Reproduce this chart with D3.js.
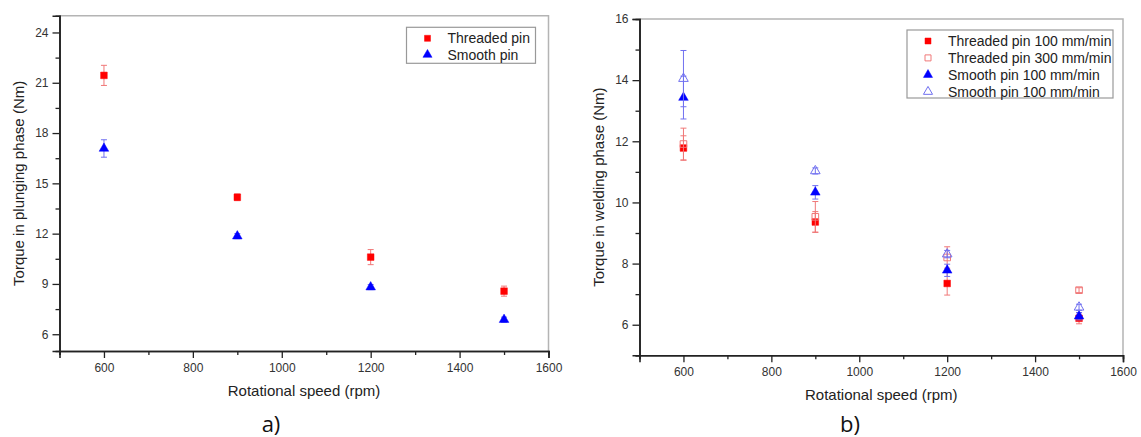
<!DOCTYPE html>
<html>
<head>
<meta charset="utf-8">
<script src="https://cdn.jsdelivr.net/npm/d3@7"></script>
<style>
  body { margin: 0; background: #fff; }
  svg { display: block; font-family: "Liberation Sans", Arial, sans-serif; }
</style>
</head>
<body>
<script>
const width = 1141;
const height = 437;

// rotational speeds (rpm)
const speeds = [600, 900, 1200, 1500];

// a) plunging phase torque (Nm)
const plungeThreaded = [21.44, 14.17, 10.6, 8.57];
const plungeThreadedErr = [0.6, 0.2, 0.45, 0.3];
const plungeSmooth = [17.08, 11.85, 8.81, 6.87];
const plungeSmoothErr = [0.52, 0.15, 0.15, 0.15];

// b) welding phase torque (Nm)
const weldThreaded100 = [11.78, 9.36, 7.35, 6.21];
const weldThreaded100Err = [0.4, 0.34, 0.38, 0.18];
const weldThreaded300 = [11.91, 9.53, 8.2, 7.13];
const weldThreaded300Err = [0.52, 0.5, 0.35, 0.08];
const weldSmooth100 = [13.43, 10.33, 7.78, 6.28];
const weldSmooth100Err = [0.7, 0.22, 0.2, 0.12];
const weldSmooth300 = [14.05, 11.03, 8.31, 6.57];
const weldSmooth300Err = [0.92, 0.1, 0.12, 0.1];

// ticks
const xMajor = [600, 800, 1000, 1200, 1400, 1600];
const xMinor = [500, 700, 900, 1100, 1300, 1500];
const yMajorA = [6, 9, 12, 15, 18, 21, 24];
const yMinorA = [7.5, 10.5, 13.5, 16.5, 19.5, 22.5];
const yMajorB = [6, 8, 10, 12, 14, 16];
const yMinorB = [5, 7, 9, 11, 13, 15];

const colors = {
  red: "#ff0000",
  redLight: "#f07878",
  blue: "#0000ff",
  blueLight: "#7070f0",
};

const svg = d3
  .select("body")
  .append("svg")
  .attr("width", width)
  .attr("height", height);

const drawPanel = (p) => {
  const x = d3.scaleLinear().domain([500, 1600]).range([p.l, p.r]);
  const y = d3.scaleLinear().domain(p.yDomain).range([p.b, p.t]);
  const g = svg.append("g");

  // grey frame on top / right
  g.append("path")
    .attr("d", `M${p.l},${p.t}H${p.r}V${p.b}`)
    .attr("fill", "none")
    .attr("stroke", "#b4b4b4")
    .attr("stroke-width", 1.5);

  const styleAxis = (sel) => {
    sel.select(".domain").attr("stroke", "#222").attr("stroke-width", 1.6);
    sel.selectAll(".tick line").attr("stroke", "#222").attr("stroke-width", 1.3);
    sel.selectAll(".tick text")
      .attr("fill", "#333")
      .style("font-size", "12px");
  };

  // minor ticks first
  g.append("g")
    .attr("transform", `translate(0,${p.b})`)
    .call(d3.axisBottom(x).tickValues(xMinor).tickSize(4).tickFormat(""))
    .call(styleAxis);
  g.append("g")
    .attr("transform", `translate(${p.l},0)`)
    .call(d3.axisLeft(y).tickValues(p.yMinor).tickSize(4).tickFormat(""))
    .call(styleAxis);
  // major ticks
  g.append("g")
    .attr("transform", `translate(0,${p.b})`)
    .call(d3.axisBottom(x).tickValues(xMajor).tickSize(7).tickPadding(5).tickFormat(d3.format("d")))
    .call(styleAxis);
  g.append("g")
    .attr("transform", `translate(${p.l},0)`)
    .call(d3.axisLeft(y).tickValues(p.yMajor).tickSize(7).tickPadding(4).tickFormat(d3.format("d")))
    .call(styleAxis);

  // axis titles
  g.append("text")
    .attr("x", (p.l + p.r) / 2)
    .attr("y", p.b + 45)
    .attr("text-anchor", "middle")
    .attr("fill", "#222")
    .style("font-size", "15px")
    .text("Rotational speed (rpm)");
  g.append("text")
    .attr("transform", `translate(${p.yTitleX},${(p.t + p.b) / 2}) rotate(-90)`)
    .attr("text-anchor", "middle")
    .attr("dy", "0.35em")
    .attr("fill", "#222")
    .style("font-size", "15px")
    .text(p.yTitle);

  // panel letter
  g.append("text")
    .attr("x", p.letterX)
    .attr("y", 432)
    .attr("text-anchor", "middle")
    .attr("fill", "#111")
    .style("font-size", "22px")
    .style("font-family", "'Open Sans', sans-serif")
    .text(p.letter);

  // series: error bars then markers
  p.series.forEach((s) => {
    const sg = g.append("g");
    speeds.forEach((sp, i) => {
      const cx = x(sp);
      const y0 = y(s.values[i] - s.errs[i]);
      const y1 = y(s.values[i] + s.errs[i]);
      sg.append("path")
        .attr("d", `M${cx},${y0}V${y1}M${cx - 3},${y0}H${cx + 3}M${cx - 3},${y1}H${cx + 3}`)
        .attr("fill", "none")
        .attr("stroke", s.errColor)
        .attr("stroke-width", 1);
    });
    sg.selectAll("path.mark")
      .data(s.values)
      .enter()
      .append("path")
      .classed("mark", true)
      .attr("transform", (d, i) => `translate(${x(speeds[i])},${y(d)})`)
      .attr("d", d3.symbol().type(s.shape).size(s.shape === d3.symbolSquare ? 44 : 40))
      .attr("fill", s.filled ? s.color : "none")
      .attr("stroke", s.color)
      .attr("stroke-width", s.filled ? 0.5 : 1);
  });

  // legend
  const lg = g.append("g");
  lg.append("rect")
    .attr("x", p.legend.x)
    .attr("y", p.legend.y)
    .attr("width", p.legend.w)
    .attr("height", p.legend.h)
    .attr("fill", "#fff")
    .attr("stroke", "#999")
    .attr("stroke-width", 1.2);
  p.series.forEach((s, i) => {
    const ly = p.legend.y + 11 + i * p.legend.step;
    lg.append("path")
      .attr("transform", `translate(${p.legend.x + 21},${ly})`)
      .attr("d", d3.symbol().type(s.shape).size(s.shape === d3.symbolSquare ? 36 : 36))
      .attr("fill", s.filled ? s.color : "none")
      .attr("stroke", s.color)
      .attr("stroke-width", s.filled ? 0.5 : 1);
    lg.append("text")
      .attr("x", p.legend.x + 41)
      .attr("y", ly)
      .attr("dy", "0.35em")
      .attr("fill", "#222")
      .style("font-size", "14px")
      .text(s.name);
  });
};

drawPanel({
  l: 59.5, r: 548.5, t: 15.7, b: 351,
  yDomain: [5, 25],
  yMajor: yMajorA,
  yMinor: yMinorA,
  yTitle: "Torque in plunging phase (Nm)",
  yTitleX: 19,
  letter: "a)",
  letterX: 271,
  legend: { x: 406.5, y: 27.3, w: 129, h: 36, step: 16.4 },
  series: [
    { name: "Threaded pin", values: plungeThreaded, errs: plungeThreadedErr, shape: d3.symbolSquare, filled: true, color: colors.red, errColor: colors.redLight },
    { name: "Smooth pin", values: plungeSmooth, errs: plungeSmoothErr, shape: d3.symbolTriangle, filled: true, color: colors.blue, errColor: colors.blueLight },
  ],
});

drawPanel({
  l: 639.5, r: 1123, t: 19, b: 355.3,
  yDomain: [5, 16],
  yMajor: yMajorB,
  yMinor: yMinorB,
  yTitle: "Torque in welding phase (Nm)",
  yTitleX: 599,
  letter: "b)",
  letterX: 850,
  legend: { x: 907, y: 30, w: 206, h: 68, step: 16.9 },
  series: [
    { name: "Threaded pin 100 mm/min", values: weldThreaded100, errs: weldThreaded100Err, shape: d3.symbolSquare, filled: true, color: colors.red, errColor: colors.redLight },
    { name: "Threaded pin 300 mm/min", values: weldThreaded300, errs: weldThreaded300Err, shape: d3.symbolSquare, filled: false, color: colors.redLight, errColor: colors.redLight },
    { name: "Smooth pin 100 mm/min", values: weldSmooth100, errs: weldSmooth100Err, shape: d3.symbolTriangle, filled: true, color: colors.blue, errColor: colors.blueLight },
    { name: "Smooth pin 100 mm/min", values: weldSmooth300, errs: weldSmooth300Err, shape: d3.symbolTriangle, filled: false, color: colors.blueLight, errColor: colors.blueLight },
  ],
});
</script>
</body>
</html>
